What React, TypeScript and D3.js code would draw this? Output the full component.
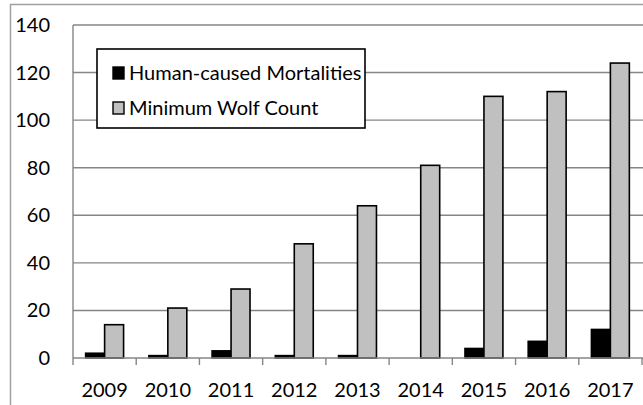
import * as d3 from "d3";

const YEARS = ["2009", "2010", "2011", "2012", "2013", "2014", "2015", "2016", "2017"];
const SERIES = ["Human-caused Mortalities", "Minimum Wolf Count"];
const MORTALITIES = [2, 1, 3, 1, 1, 0, 4, 7, 12];
const WOLF_COUNT = [14, 21, 29, 48, 64, 81, 110, 112, 124];
const Y_TICKS = [0, 20, 40, 60, 80, 100, 120, 140];

const WIDTH = 643;
const HEIGHT = 405;
const PLOT = { left: 73, right: 642, top: 25, bottom: 358 };
const COLORS = ["#000000", "#c0c0c0"];
const FONT = "Lato, 'Open Sans', sans-serif";

export default function App() {
  const x0 = d3
    .scaleBand<string>()
    .domain(YEARS)
    .range([PLOT.left, PLOT.right])
    .paddingInner(0.4)
    .paddingOuter(0.2);

  const x1 = d3.scaleBand<string>().domain(SERIES).range([0, x0.bandwidth()]);

  const y = d3.scaleLinear().domain([0, 140]).range([PLOT.bottom, PLOT.top]);

  const step = x0.step();
  const tickXs = YEARS.map((yr) => (x0(yr) as number) - (step * x0.paddingInner()) / 2);
  tickXs.push(PLOT.right);

  const values = [MORTALITIES, WOLF_COUNT];

  return (
    <svg
      width={WIDTH}
      height={HEIGHT}
      style={{ position: "absolute", left: 0, top: 0 }}
      fontFamily={FONT}
    >
      <rect x={0} y={0} width={WIDTH} height={HEIGHT} fill="#fff" />
      {/* chart frame, cropped on right/bottom */}
      <rect x={10.5} y={4.5} width={WIDTH + 20} height={HEIGHT + 20} fill="none" stroke="#a0a0a0" strokeWidth={1.5} />

      {/* gridlines */}
      {Y_TICKS.filter((t) => t > 0).map((t) => (
        <line key={t} x1={PLOT.left} x2={PLOT.right + 1} y1={y(t)} y2={y(t)} stroke="#868686" strokeWidth={1.4} />
      ))}

      {/* y axis */}
      <line x1={PLOT.left} x2={PLOT.left} y1={PLOT.top} y2={PLOT.bottom} stroke="#868686" strokeWidth={1.4} />
      {Y_TICKS.map((t) => (
        <text key={t} x={50} y={y(t)} dy="0.35em" textAnchor="end" fontSize={20} fill="#000">
          {t}
        </text>
      ))}

      {/* bars */}
      {YEARS.map((yr, i) => (
        <g key={yr} transform={`translate(${x0(yr)},0)`}>
          {SERIES.map((s, j) => {
            const v = values[j][i];
            if (v <= 0) return null;
            return (
              <rect
                key={s}
                x={x1(s)}
                y={y(v)}
                width={x1.bandwidth()}
                height={y(0) - y(v)}
                fill={COLORS[j]}
                stroke="#000"
                strokeWidth={1.6}
              />
            );
          })}
        </g>
      ))}

      {/* x axis */}
      <line x1={PLOT.left} x2={PLOT.right + 1} y1={PLOT.bottom} y2={PLOT.bottom} stroke="#868686" strokeWidth={1.4} />
      {tickXs.map((tx, i) => (
        <line key={i} x1={tx} x2={tx} y1={PLOT.bottom} y2={PLOT.bottom + 7} stroke="#868686" strokeWidth={1.4} />
      ))}
      {YEARS.map((yr) => (
        <text
          key={yr}
          x={(x0(yr) as number) + x0.bandwidth() / 2}
          y={390}
          dy="0.35em"
          textAnchor="middle"
          fontSize={20}
          fill="#000"
        >
          {yr}
        </text>
      ))}

      {/* legend */}
      <g>
        <rect x={97} y={49} width={268} height={79} fill="#fff" stroke="#000" strokeWidth={1.6} />
        {SERIES.map((s, j) => (
          <g key={s} transform={`translate(113,${73 + j * 35})`}>
            <rect x={0} y={-6} width={11} height={12} fill={COLORS[j]} stroke="#000" strokeWidth={1.4} />
            <text x={16} y={0} dy="0.35em" fontSize={20} fill="#000">
              {s}
            </text>
          </g>
        ))}
      </g>
    </svg>
  );
}
